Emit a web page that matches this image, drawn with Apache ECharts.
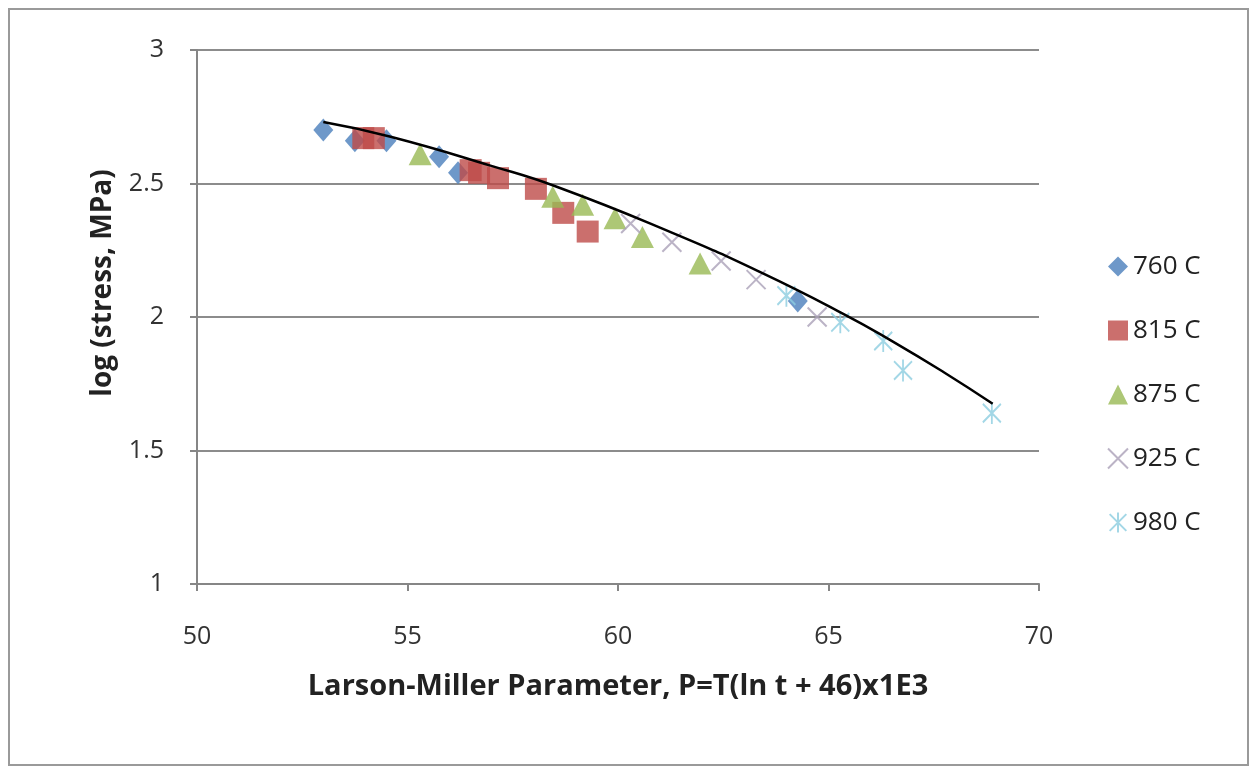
<!DOCTYPE html>
<html>
<head>
<meta charset="utf-8">
<title>Larson-Miller</title>
<script src="https://cdn.jsdelivr.net/npm/echarts@6/dist/echarts.min.js"></script>
<style>
    html, body { margin: 0; padding: 0; background: #fff; }
    #chart { width: 1250px; height: 766px; }
</style>
</head>
<body>
<div id="chart"></div>
<script>
// 数据 (读自图片)  [P, log stress]
var s760 = [[53.0, 2.70], [53.75, 2.66], [54.5, 2.66], [55.75, 2.60], [56.2, 2.54], [64.27, 2.06]];
var s815 = [[53.95, 2.67], [54.2, 2.67], [56.5, 2.55], [56.7, 2.54], [57.15, 2.52], [58.05, 2.48], [58.7, 2.39], [59.28, 2.32]];
var s875 = [[55.3, 2.61], [58.45, 2.45], [59.16, 2.42], [59.93, 2.37], [60.58, 2.30], [61.95, 2.20]];
var s925 = [[60.3, 2.35], [61.28, 2.28], [62.45, 2.21], [63.28, 2.14], [64.73, 2.00]];
var s980 = [[64.0, 2.08], [65.28, 1.98], [66.3, 1.91], [66.77, 1.80], [68.88, 1.64]];
// 趋势线
var trend = [[53.0, 2.73], [54.6, 2.675], [56.97, 2.567], [58.56, 2.487], [61.25, 2.318], [63.38, 2.168], [65.35, 2.012], [66.54, 1.907], [67.72, 1.795], [68.9, 1.675]];

var seriesNames = ['760 C', '815 C', '875 C', '925 C', '980 C'];
var xTicks = { min: 50, max: 70, step: 5 };
var yTicks = { min: 1, max: 3, step: 0.5 };

var xPath = 'path://M0,0L10,10M10,0L0,10';
var starPath = 'path://M0,0L10,10M10,0L0,10M5,-1L5,11';

var font = 'Open Sans, Lato, sans-serif';
var myChart = echarts.init(document.getElementById('chart'));

function scatter(name, data, symbol, size, color, stroke) {
    return {
        name: name,
        type: 'scatter',
        data: data,
        symbol: symbol,
        symbolSize: size,
        z: 2,
        itemStyle: stroke
            ? { color: 'rgba(0,0,0,0)', borderColor: color, borderWidth: 2 }
            : { color: color }
    };
}

myChart.setOption({
    animation: false,
    backgroundColor: '#fff',
    graphic: [{
        type: 'rect',
        shape: { x: 9, y: 9, width: 1239, height: 756 },
        style: { fill: 'none', stroke: '#9a9a9a', lineWidth: 2 },
        silent: true
    }],
    grid: { left: 197, right: 211, top: 50, bottom: 182 },
    legend: {
        orient: 'vertical',
        left: 1102,
        top: 248,
        itemGap: 37,
        itemWidth: 20,
        itemHeight: 20,
        textStyle: { fontFamily: font, fontSize: 26, lineHeight: 27, color: '#222' },
        data: seriesNames
    },
    xAxis: {
        type: 'value',
        min: xTicks.min,
        max: xTicks.max,
        interval: xTicks.step,
        name: 'Larson-Miller Parameter, P=T(ln t + 46)x1E3',
        nameLocation: 'middle',
        nameGap: 88,
        nameTextStyle: { fontFamily: font, fontSize: 29, fontWeight: 'bold', color: '#222' },
        axisLine: { lineStyle: { color: '#868686', width: 2 } },
        axisTick: { show: true, length: 7, lineStyle: { color: '#868686', width: 2 } },
        axisLabel: { fontFamily: font, fontSize: 25, color: '#333', margin: 40 },
        splitLine: { show: false }
    },
    yAxis: {
        type: 'value',
        min: yTicks.min,
        max: yTicks.max,
        interval: yTicks.step,
        name: 'log (stress, MPa)',
        nameLocation: 'middle',
        nameGap: 80,
        nameTextStyle: { fontFamily: font, fontSize: 28, fontWeight: 'bold', color: '#222', padding: [0, 0, 0, 68] },
        axisLine: { show: true, lineStyle: { color: '#868686', width: 2 } },
        axisTick: { show: true, length: 7, lineStyle: { color: '#868686', width: 2 } },
        axisLabel: { fontFamily: font, fontSize: 25, color: '#333', margin: 33 },
        splitLine: { show: true, lineStyle: { color: '#8c8c8c', width: 2 } }
    },
    series: [
        scatter(seriesNames[0], s760, 'diamond', [20, 23], '#4a7ebb'),
        scatter(seriesNames[1], s815, 'rect', 22, '#be4b48'),
        scatter(seriesNames[2], s875, 'triangle', [23, 22], '#98b954'),
        scatter(seriesNames[3], s925, xPath, 19, '#aaa0b8', true),
        scatter(seriesNames[4], s980, starPath, [18, 22], '#8ccde0', true),
        {
            name: 'trend',
            type: 'line',
            data: trend,
            smooth: true,
            symbol: 'none',
            z: 5,
            lineStyle: { color: '#000', width: 2.5 }
        }
    ]
});
</script>
</body>
</html>
